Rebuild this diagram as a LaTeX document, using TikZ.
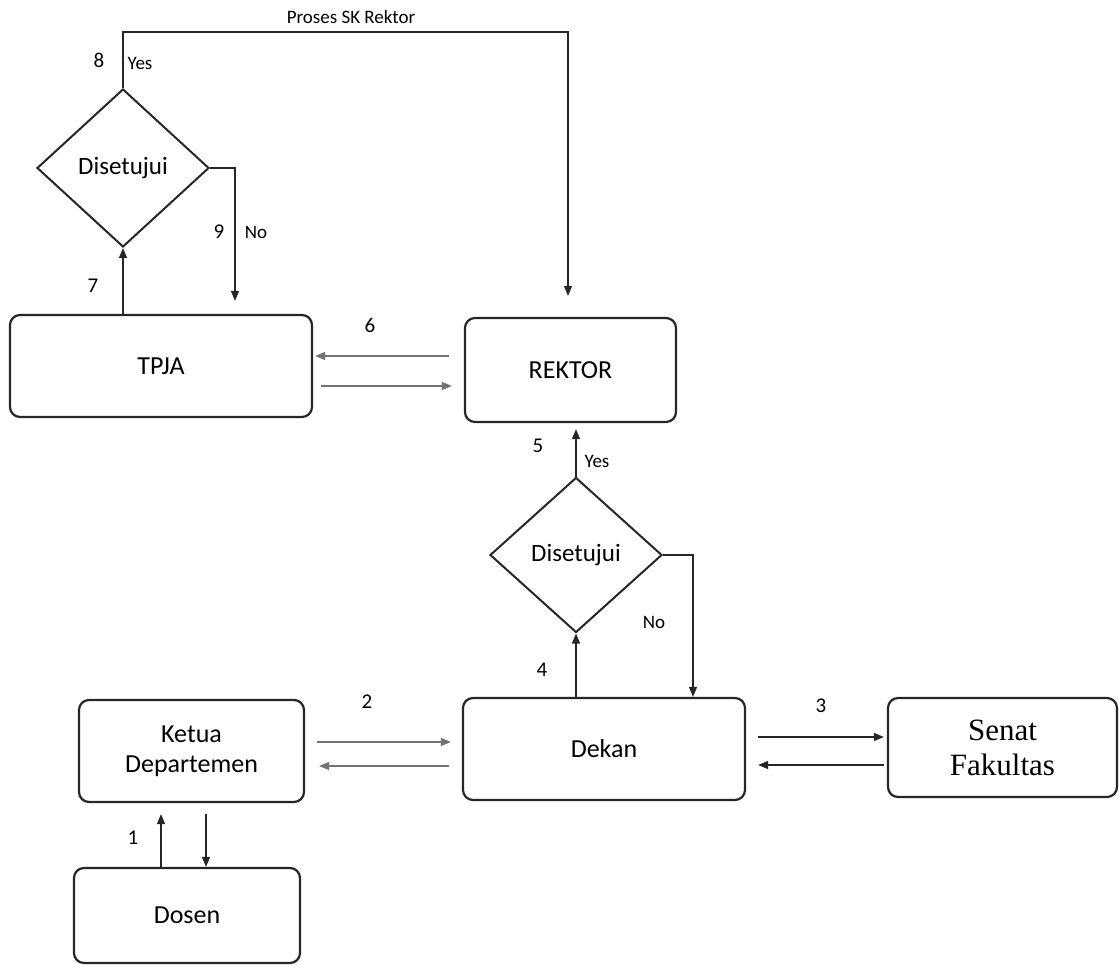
\documentclass[tikz,border=0pt]{standalone}
\usepackage{fontspec}
\setmainfont{Carlito}
\newfontfamily\serifsenat{Liberation Serif}
\usetikzlibrary{shapes.geometric,arrows.meta}
\begin{document}
\begin{tikzpicture}[x=1pt,y=-1pt,
  box/.style={draw=black!85, line width=2.2pt, rounded corners=10pt, inner sep=0pt, align=center, font=\fontsize{26}{30}\selectfont},
  dec/.style={draw=black!85, line width=2pt, diamond, aspect=1.09, inner sep=0pt, font=\fontsize{25}{30}\selectfont},
  arr/.style={line width=1.3pt, draw=black!85, -{Triangle[length=10pt,width=8pt]}},
  arrg/.style={line width=1.3pt, draw=black!55, -{Triangle[length=10pt,width=8pt]}},
  ln/.style={line width=1.3pt, draw=black!80},
  lbl/.style={inner sep=0pt, font=\fontsize{21}{24}\selectfont},
  sml/.style={inner sep=0pt, font=\fontsize{19}{22}\selectfont}]
\useasboundingbox (0,0) rectangle (1119,965);
% nodes
\node[box, minimum width=302pt, minimum height=102pt] (tpja) at (161,366) {TPJA};
\node[box, minimum width=211pt, minimum height=104pt] (rektor) at (570.5,370) {REKTOR};
\node[box, minimum width=282pt, minimum height=102pt] (dekan) at (604,749) {Dekan};
\node[box, minimum width=229pt, minimum height=99pt, font=\serifsenat\fontsize{31}{35}\selectfont] (senat) at (1002.5,747.5) {Senat\\Fakultas};
\node[box, minimum width=225pt, minimum height=102pt] (ketua) at (191.5,751) {Ketua\\Departemen};
\node[box, minimum width=226pt, minimum height=95pt] (dosen) at (187,915.5) {Dosen};
\node[dec, minimum width=172pt, minimum height=158pt] (d1) at (123,168) {Disetujui};
\node[dec, minimum width=172pt, minimum height=155pt] (d2) at (576,555) {Disetujui};
% coordinates
\coordinate (ptop) at (568,32);
\coordinate (n9) at (235,168);
\coordinate (n2) at (693,555);
% connectors
\draw[arr] (d1.south |- tpja.north) -- (d1.south);
\draw[arr, shorten >=21pt] (d1.north) |- (ptop) -- (ptop |- rektor.north);
\draw[arr, shorten >=13pt] (d1.east) -- (n9) -- (n9 |- tpja.north);
\draw[arrg, shorten <=15pt, shorten >=2pt] (rektor.west |- 0,356) -- (tpja.east |- 0,356);
\draw[arrg, shorten <=8pt, shorten >=12pt] (tpja.east |- 0,386) -- (rektor.west |- 0,386);
\draw[arr, shorten >=6pt] (d2.north) -- (d2.north |- rektor.south);
\draw[arr] (d2.east) -- (n2) -- (n2 |- dekan.north);
\draw[arr] (d2.south |- dekan.north) -- (d2.south);
\draw[arrg, shorten <=12pt, shorten >=11pt] (ketua.east |- 0,742) -- (dekan.west |- 0,742);
\draw[arrg, shorten <=13pt, shorten >=14pt] (dekan.west |- 0,766) -- (ketua.east |- 0,766);
\draw[arr, shorten <=12pt, shorten >=3pt] (dekan.east |- 0,737) -- (senat.west |- 0,737);
\draw[arr, shorten <=3pt, shorten >=12pt] (senat.west |- 0,765) -- (dekan.east |- 0,765);
\draw[arr, shorten >=11pt] (dosen.north -| 161,0) -- (ketua.south -| 161,0);
\draw[arr, shorten <=11pt] (ketua.south -| 206,0) -- (dosen.north -| 206,0);
% labels
\node[sml] (lproses) at (351,17) {Proses SK Rektor};
\node[lbl] (l8) at (99,60) {8};
\node[sml] (lyes8) at (140,63) {Yes};
\node[lbl] (l9) at (219,232) {9};
\node[sml] (lno9) at (256,232) {No};
\node[lbl] (l7) at (93,286) {7};
\node[lbl] (l6) at (370,325) {6};
\node[lbl] (l5) at (538,446) {5};
\node[sml] (lyes5) at (597,461) {Yes};
\node[sml] (lno4) at (654,622) {No};
\node[lbl] (l4) at (542,670) {4};
\node[lbl] (l2) at (367,702) {2};
\node[lbl] (l3) at (821,706) {3};
\node[lbl] (l1) at (133,838) {1};
\end{tikzpicture}
\end{document}
